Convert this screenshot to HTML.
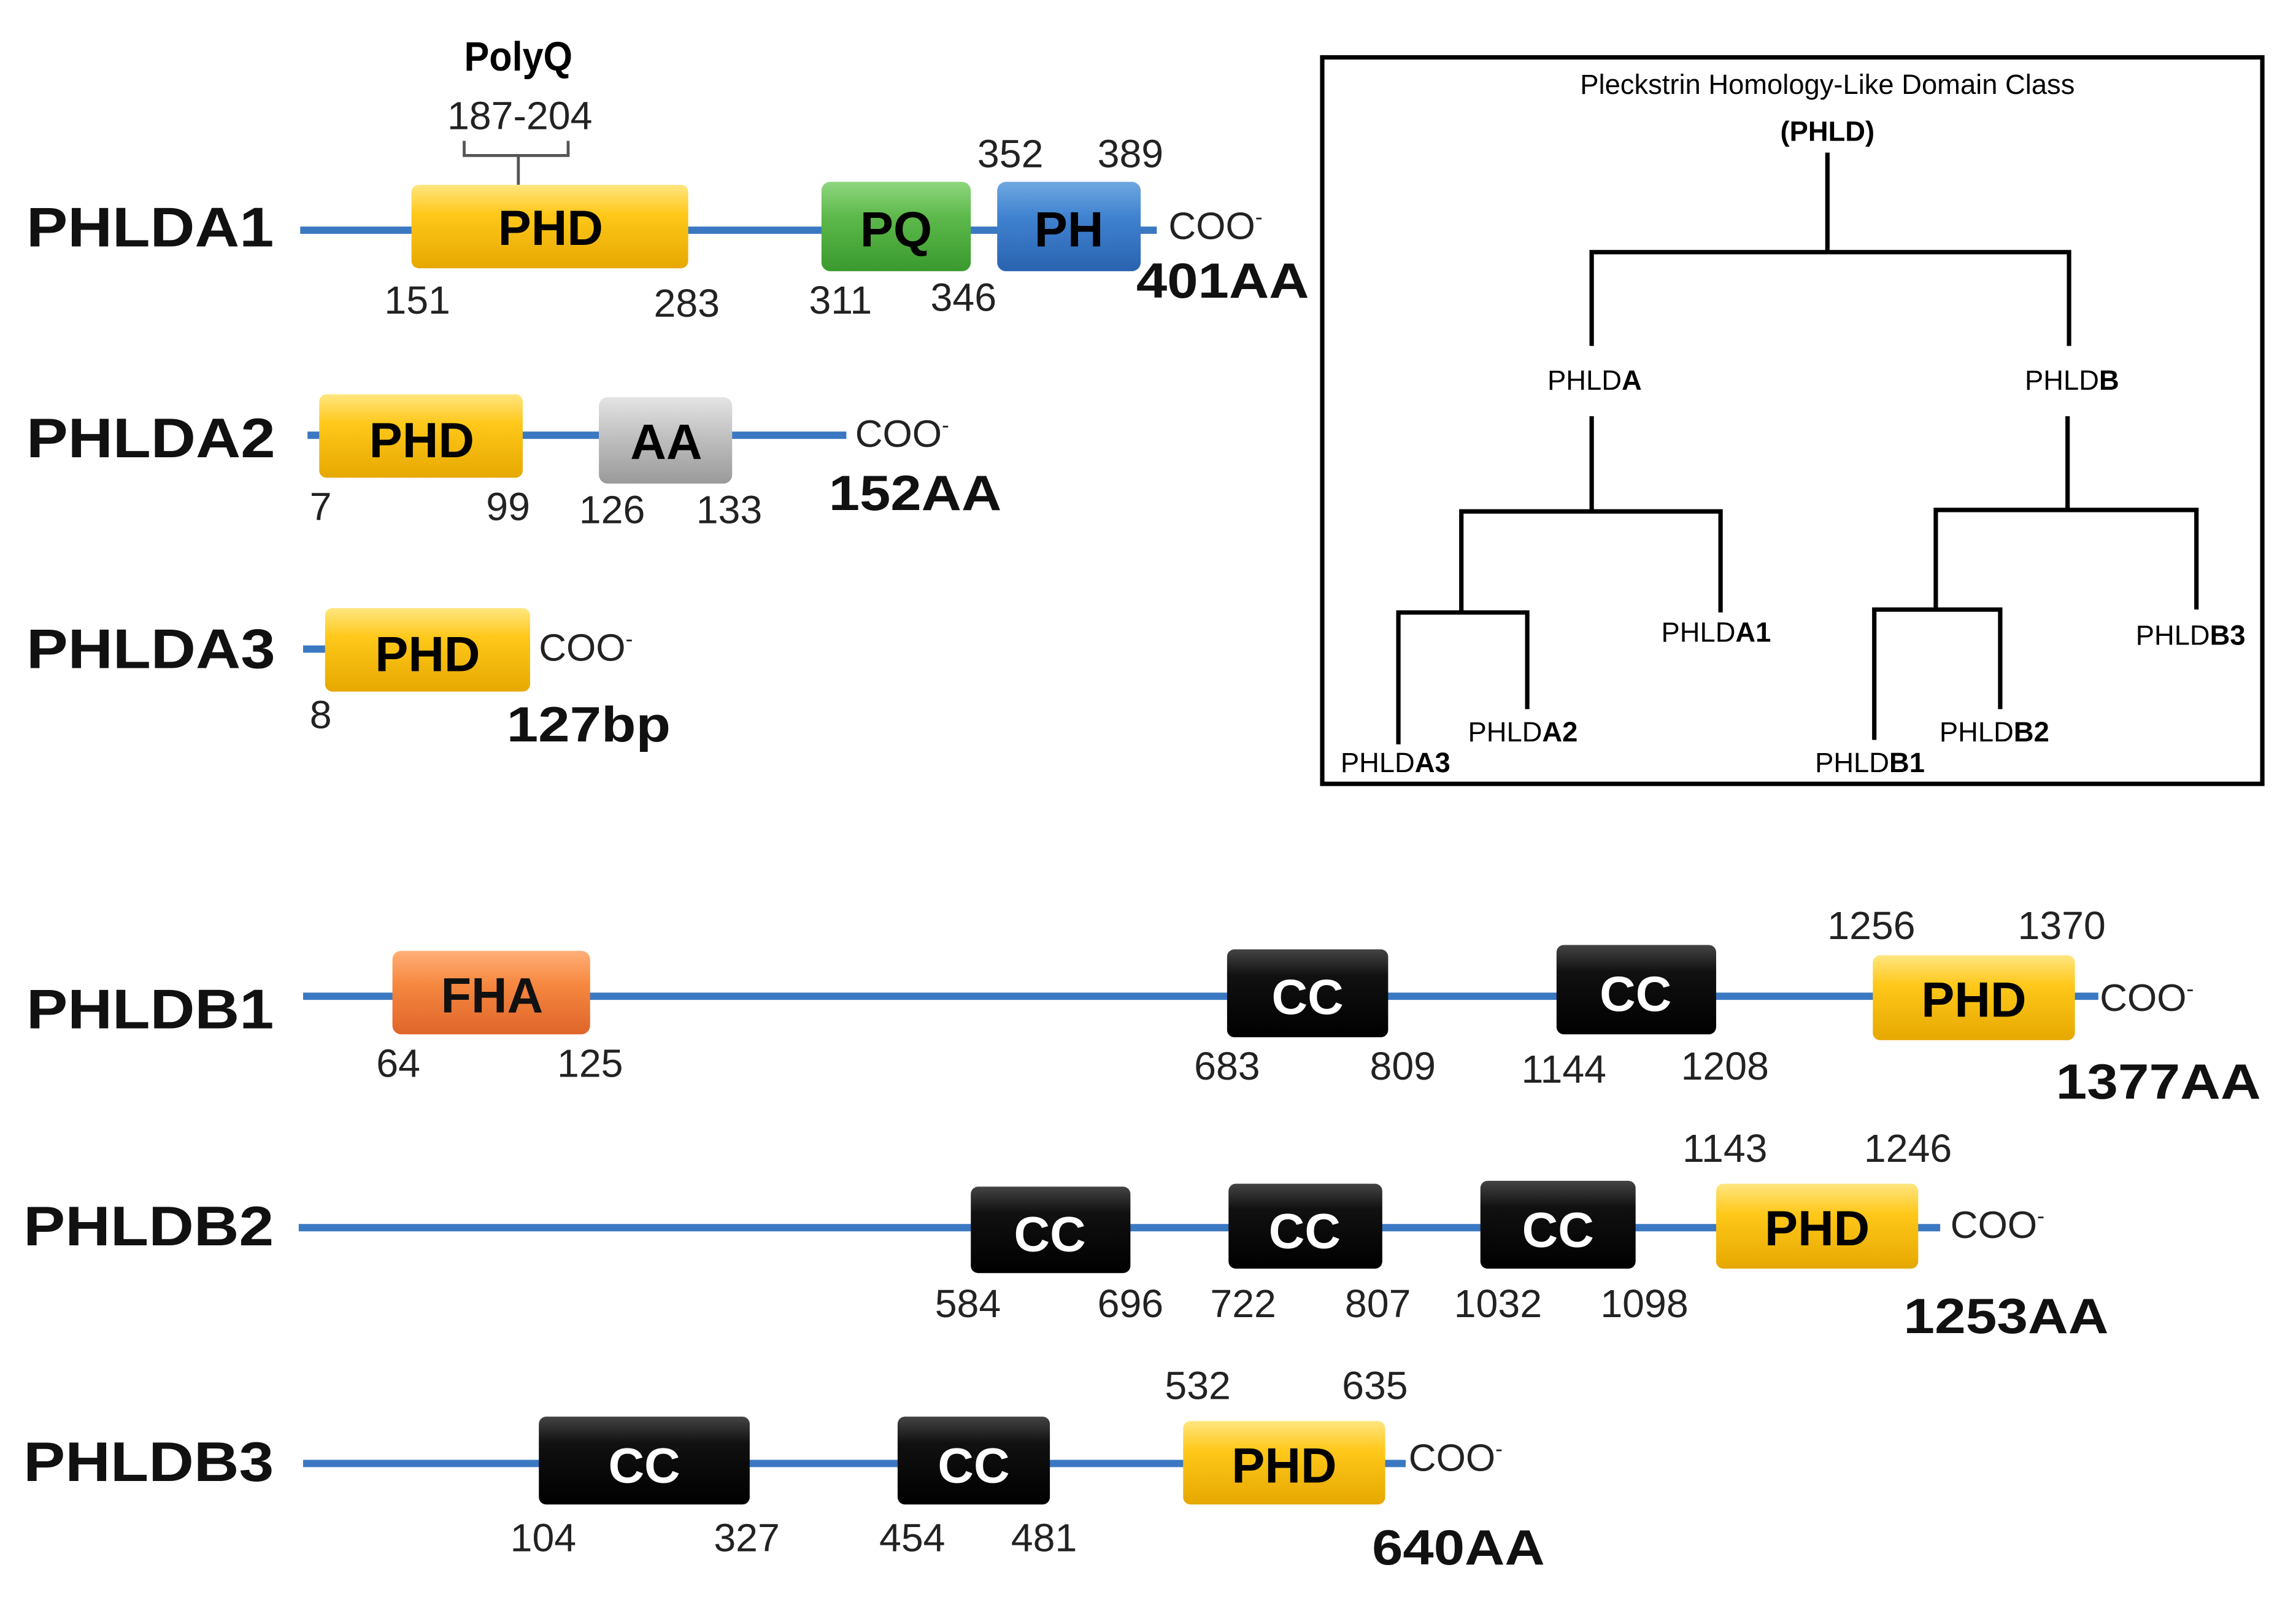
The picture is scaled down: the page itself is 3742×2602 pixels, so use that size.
<!DOCTYPE html>
<html><head><meta charset="utf-8"><style>
html,body{margin:0;padding:0;background:#fff}
svg{display:block}
text{font-family:"Liberation Sans",sans-serif}
.n{font-size:27px;fill:#222;text-anchor:middle}
.lab{font-size:38px;font-weight:bold;fill:#111}
.bx{font-size:34px;font-weight:bold;text-anchor:middle}
.tot{font-size:34px;font-weight:bold;fill:#111}
.coo{font-size:26px;fill:#222}
.t{font-size:19px;fill:#000}
</style></head><body>
<svg width="3742" height="2602" viewBox="0 0 1568 1090" xmlns="http://www.w3.org/2000/svg">
<defs>
<linearGradient id="y" x1="0" y1="0" x2="0" y2="1"><stop offset="0" stop-color="#ffe680"/><stop offset="0.35" stop-color="#ffc81a"/><stop offset="1" stop-color="#e6a800"/></linearGradient>
<linearGradient id="g" x1="0" y1="0" x2="0" y2="1"><stop offset="0" stop-color="#8fd67f"/><stop offset="0.4" stop-color="#5cb84a"/><stop offset="1" stop-color="#3a9a2e"/></linearGradient>
<linearGradient id="b" x1="0" y1="0" x2="0" y2="1"><stop offset="0" stop-color="#6fa8e0"/><stop offset="0.4" stop-color="#3f82d0"/><stop offset="1" stop-color="#2a63b0"/></linearGradient>
<linearGradient id="s" x1="0" y1="0" x2="0" y2="1"><stop offset="0" stop-color="#e4e4e4"/><stop offset="0.4" stop-color="#c4c4c4"/><stop offset="1" stop-color="#9a9a9a"/></linearGradient>
<linearGradient id="o" x1="0" y1="0" x2="0" y2="1"><stop offset="0" stop-color="#ffaf78"/><stop offset="0.4" stop-color="#f58840"/><stop offset="1" stop-color="#e0652a"/></linearGradient>
<linearGradient id="k" x1="0" y1="0" x2="0" y2="1"><stop offset="0" stop-color="#444"/><stop offset="0.3" stop-color="#111"/><stop offset="1" stop-color="#000"/></linearGradient>
</defs>
<g stroke="#3b78c2" stroke-width="5">
<line x1="205" y1="157" x2="790" y2="157"/>
<line x1="210" y1="297" x2="578" y2="297"/>
<line x1="207" y1="443" x2="224" y2="443"/>
<line x1="207" y1="680" x2="1433" y2="680"/>
<line x1="204" y1="838" x2="1325" y2="838"/>
<line x1="207" y1="999" x2="960" y2="999"/>
</g>
<!-- PHLDA1 -->
<text class="lab" x="18" y="168" textLength="169" lengthAdjust="spacingAndGlyphs">PHLDA1</text>
<text x="354" y="48" font-size="28" font-weight="bold" text-anchor="middle" textLength="74" lengthAdjust="spacingAndGlyphs">PolyQ</text>
<text class="n" x="355" y="88">187-204</text>
<path d="M317 96 V106 H388 V96 M354 106 V126" fill="none" stroke="#555" stroke-width="2"/>
<rect x="281" y="126" width="189" height="57" rx="5" fill="url(#y)"/>
<text class="bx" x="376" y="167">PHD</text>
<rect x="561" y="124" width="102" height="61" rx="6" fill="url(#g)"/>
<text class="bx" x="612" y="168">PQ</text>
<rect x="681" y="124" width="98" height="61" rx="6" fill="url(#b)"/>
<text class="bx" x="730" y="168">PH</text>
<text class="coo" x="798" y="163">COO<tspan font-size="15" dy="-10">-</tspan></text>
<text class="tot" x="776" y="203" textLength="118" lengthAdjust="spacingAndGlyphs">401AA</text>
<text class="n" x="285" y="214">151</text><text class="n" x="469" y="216">283</text>
<text class="n" x="574" y="214">311</text><text class="n" x="658" y="212">346</text>
<text class="n" x="690" y="114">352</text><text class="n" x="772" y="114">389</text>
<!-- PHLDA2 -->
<text class="lab" x="18" y="312" textLength="170" lengthAdjust="spacingAndGlyphs">PHLDA2</text>
<rect x="218" y="269" width="139" height="57" rx="5" fill="url(#y)"/>
<text class="bx" x="288" y="312">PHD</text>
<rect x="409" y="271" width="91" height="59" rx="6" fill="url(#s)"/>
<text class="bx" x="455" y="313" font-size="30">AA</text>
<text class="coo" x="584" y="305">COO<tspan font-size="15" dy="-10">-</tspan></text>
<text class="tot" x="566" y="348" textLength="118" lengthAdjust="spacingAndGlyphs">152AA</text>
<text class="n" x="219" y="355">7</text><text class="n" x="347" y="355">99</text>
<text class="n" x="418" y="357">126</text><text class="n" x="498" y="357">133</text>
<!-- PHLDA3 -->
<text class="lab" x="18" y="456" textLength="170" lengthAdjust="spacingAndGlyphs">PHLDA3</text>
<rect x="222" y="415" width="140" height="57" rx="5" fill="url(#y)"/>
<text class="bx" x="292" y="458">PHD</text>
<text class="coo" x="368" y="451">COO<tspan font-size="15" dy="-10">-</tspan></text>
<text class="tot" x="346" y="506" textLength="112" lengthAdjust="spacingAndGlyphs">127bp</text>
<text class="n" x="219" y="497">8</text>
<!-- Tree box -->
<rect x="903" y="39" width="642" height="496" fill="none" stroke="#000" stroke-width="3"/>
<text class="t" x="1248" y="64" text-anchor="middle">Pleckstrin Homology-Like Domain Class</text>
<text class="t" x="1248" y="96" text-anchor="middle" font-weight="bold">(PHLD)</text>
<path d="M1248 104 V172 M1087 236 V172 H1413 V236 M1087 284 V349 M998 418 V349 H1175 V418 M955 508 V418 H1043 V484 M1412 284 V348 M1322 416 V348 H1500 V416 M1280 505 V416 H1366 V484" fill="none" stroke="#000" stroke-width="3"/>
<text class="t" x="1089" y="266" text-anchor="middle">PHLD<tspan font-weight="bold">A</tspan></text>
<text class="t" x="1415" y="266" text-anchor="middle">PHLD<tspan font-weight="bold">B</tspan></text>
<text class="t" x="1172" y="438" text-anchor="middle">PHLD<tspan font-weight="bold">A1</tspan></text>
<text class="t" x="1040" y="506" text-anchor="middle">PHLD<tspan font-weight="bold">A2</tspan></text>
<text class="t" x="953" y="527" text-anchor="middle">PHLD<tspan font-weight="bold">A3</tspan></text>
<text class="t" x="1496" y="440" text-anchor="middle">PHLD<tspan font-weight="bold">B3</tspan></text>
<text class="t" x="1362" y="506" text-anchor="middle">PHLD<tspan font-weight="bold">B2</tspan></text>
<text class="t" x="1277" y="527" text-anchor="middle">PHLD<tspan font-weight="bold">B1</tspan></text>
<!-- PHLDB1 -->
<text class="lab" x="18" y="702" textLength="169" lengthAdjust="spacingAndGlyphs">PHLDB1</text>
<rect x="268" y="649" width="135" height="57" rx="6" fill="url(#o)"/>
<text class="bx" x="336" y="691" fill="#111">FHA</text>
<rect x="838" y="648" width="110" height="60" rx="5" fill="url(#k)"/>
<text class="bx" x="893" y="692" fill="#fff" font-size="38">CC</text>
<rect x="1063" y="645" width="109" height="61" rx="5" fill="url(#k)"/>
<text class="bx" x="1117" y="690" fill="#fff" font-size="38">CC</text>
<rect x="1279" y="652" width="138" height="58" rx="5" fill="url(#y)"/>
<text class="bx" x="1348" y="694">PHD</text>
<text class="coo" x="1434" y="690">COO<tspan font-size="15" dy="-10">-</tspan></text>
<text class="tot" x="1404" y="750" textLength="140" lengthAdjust="spacingAndGlyphs">1377AA</text>
<text class="n" x="272" y="735">64</text><text class="n" x="403" y="735">125</text>
<text class="n" x="838" y="737">683</text><text class="n" x="958" y="737">809</text>
<text class="n" x="1068" y="739">1144</text><text class="n" x="1178" y="737">1208</text>
<text class="n" x="1278" y="641">1256</text><text class="n" x="1408" y="641">1370</text>
<!-- PHLDB2 -->
<text class="lab" x="16" y="850" textLength="171" lengthAdjust="spacingAndGlyphs">PHLDB2</text>
<rect x="663" y="810" width="109" height="59" rx="5" fill="url(#k)"/>
<text class="bx" x="717" y="854" fill="#fff" font-size="38">CC</text>
<rect x="839" y="808" width="105" height="58" rx="5" fill="url(#k)"/>
<text class="bx" x="891" y="852" fill="#fff" font-size="38">CC</text>
<rect x="1011" y="806" width="106" height="60" rx="5" fill="url(#k)"/>
<text class="bx" x="1064" y="851" fill="#fff" font-size="38">CC</text>
<rect x="1172" y="808" width="138" height="58" rx="5" fill="url(#y)"/>
<text class="bx" x="1241" y="850">PHD</text>
<text class="coo" x="1332" y="845">COO<tspan font-size="15" dy="-10">-</tspan></text>
<text class="tot" x="1300" y="910" textLength="140" lengthAdjust="spacingAndGlyphs">1253AA</text>
<text class="n" x="661" y="899">584</text><text class="n" x="772" y="899">696</text>
<text class="n" x="849" y="899">722</text><text class="n" x="941" y="899">807</text>
<text class="n" x="1023" y="899">1032</text><text class="n" x="1123" y="899">1098</text>
<text class="n" x="1178" y="793">1143</text><text class="n" x="1303" y="793">1246</text>
<!-- PHLDB3 -->
<text class="lab" x="16" y="1011" textLength="171" lengthAdjust="spacingAndGlyphs">PHLDB3</text>
<rect x="368" y="967" width="144" height="60" rx="5" fill="url(#k)"/>
<text class="bx" x="440" y="1012" fill="#fff" font-size="38">CC</text>
<rect x="613" y="967" width="104" height="60" rx="5" fill="url(#k)"/>
<text class="bx" x="665" y="1012" fill="#fff" font-size="38">CC</text>
<rect x="808" y="970" width="138" height="57" rx="5" fill="url(#y)"/>
<text class="bx" x="877" y="1012">PHD</text>
<text class="coo" x="962" y="1004">COO<tspan font-size="15" dy="-10">-</tspan></text>
<text class="tot" x="937" y="1068" textLength="118" lengthAdjust="spacingAndGlyphs">640AA</text>
<text class="n" x="371" y="1059">104</text><text class="n" x="510" y="1059">327</text>
<text class="n" x="623" y="1059">454</text><text class="n" x="713" y="1059">481</text>
<text class="n" x="818" y="955">532</text><text class="n" x="939" y="955">635</text>
</svg>
</body></html>
